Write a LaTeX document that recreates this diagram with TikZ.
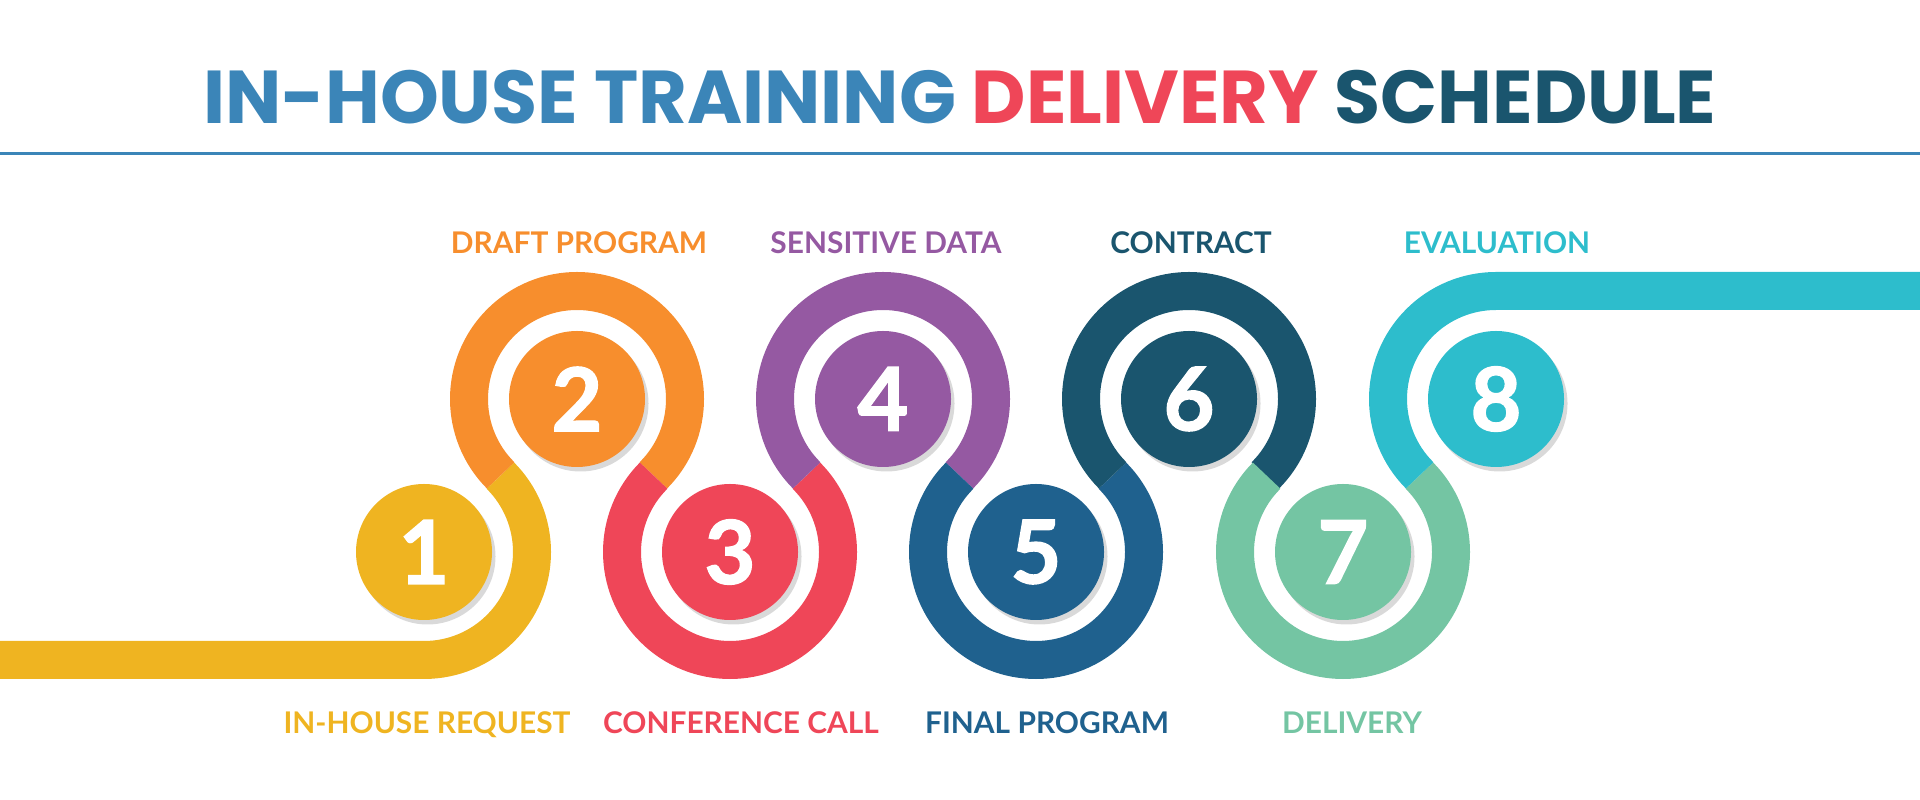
\documentclass[tikz,border=0pt]{standalone}
\usepackage{fontspec}
\setmainfont{Lato}
\newfontfamily\titlefont{Poppins}
\newfontfamily\numfont{Lato}[BoldFeatures={FakeBold=1.6}]
\usetikzlibrary{calc,shadows}

\definecolor{ihYellow}{HTML}{EFB421}
\definecolor{ihOrange}{HTML}{F78E2D}
\definecolor{ihRed}{HTML}{EF4658}
\definecolor{ihPurple}{HTML}{9559A2}
\definecolor{ihBlue}{HTML}{1F618E}
\definecolor{ihTeal}{HTML}{1A556E}
\definecolor{ihGreen}{HTML}{74C5A3}
\definecolor{ihCyan}{HTML}{2DBDCC}
\definecolor{ihSky}{HTML}{3B85B8}

\begin{document}
\begin{tikzpicture}
\tikzset{ring/.style = {line width=0.38cm}}
\tikzset{stepnum/.style = {shape=circle, minimum size=1.36cm, inner sep=0pt, text=white,
    font=\numfont\fontsize{25}{25}\selectfont\bfseries,
    drop shadow={shadow xshift=0.035cm, shadow yshift=-0.045cm, opacity=0.15, fill=black}}}
\tikzset{steptext/.style = {anchor=base, inner sep=0pt, font=\fontsize{8.5}{10}\selectfont\bfseries}}
\useasboundingbox (0,0) rectangle (19.2,8);

% title and rule
\node[anchor=base, inner sep=0pt, font={\titlefont\fontsize{21.3}{24}\selectfont\bfseries}] (title) at (9.6,6.76)
    {\textcolor{ihSky}{IN-HOUSE TRAINING} \textcolor{ihRed}{DELIVERY} \textcolor{ihTeal}{SCHEDULE}};
\coordinate (ruleL) at (0,6.465);
\coordinate (ruleR) at (19.2,6.465);
\draw[ihSky, line width=0.03cm] (ruleL) -- (ruleR);

% centres of the steps
\coordinate (c1) at (4.24,2.48);
\coordinate (c2) at (5.77,4.01);
\coordinate (c3) at (7.30,2.48);
\coordinate (c4) at (8.83,4.01);
\coordinate (c5) at (10.36,2.48);
\coordinate (c6) at (11.89,4.01);
\coordinate (c7) at (13.43,2.48);
\coordinate (c8) at (14.96,4.01);
\coordinate (start) at (0,1.40);
\coordinate (finish) at (19.2,5.09);

% the winding band
\draw[ring, ihYellow] (start) -- ($(c1)+(-90:1.08)$) arc[start angle=-90, end angle=45, radius=1.08];
\draw[ring, ihOrange] ($(c2)+(225:1.08)$) arc[start angle=225, end angle=-45, radius=1.08];
\draw[ring, ihRed] ($(c3)+(135:1.08)$) arc[start angle=135, end angle=405, radius=1.08];
\draw[ring, ihPurple] ($(c4)+(225:1.08)$) arc[start angle=225, end angle=-45, radius=1.08];
\draw[ring, ihBlue] ($(c5)+(135:1.08)$) arc[start angle=135, end angle=405, radius=1.08];
\draw[ring, ihTeal] ($(c6)+(225:1.08)$) arc[start angle=225, end angle=-45, radius=1.08];
\draw[ring, ihGreen] ($(c7)+(135:1.08)$) arc[start angle=135, end angle=405, radius=1.08];
\draw[ring, ihCyan] ($(c8)+(225:1.08)$) arc[start angle=225, end angle=90, radius=1.08] -- (finish);

% numbered discs
\node[stepnum, fill=ihYellow] (n1) at (c1) {1};
\node[stepnum, fill=ihOrange] (n2) at (c2) {2};
\node[stepnum, fill=ihRed] (n3) at (c3) {3};
\node[stepnum, fill=ihPurple] (n4) at (c4) {4};
\node[stepnum, fill=ihBlue] (n5) at (c5) {5};
\node[stepnum, fill=ihTeal] (n6) at (c6) {6};
\node[stepnum, fill=ihGreen] (n7) at (c7) {7};
\node[stepnum, fill=ihCyan] (n8) at (c8) {8};

% step names
\node[steptext, text=ihYellow] (t1) at (4.27,0.66) {IN-HOUSE REQUEST};
\node[steptext, text=ihOrange] (t2) at (5.79,5.46) {DRAFT PROGRAM};
\node[steptext, text=ihRed] (t3) at (7.41,0.66) {CONFERENCE CALL};
\node[steptext, text=ihPurple] (t4) at (8.86,5.46) {SENSITIVE DATA};
\node[steptext, text=ihBlue] (t5) at (10.47,0.66) {FINAL PROGRAM};
\node[steptext, text=ihTeal] (t6) at (11.91,5.46) {CONTRACT};
\node[steptext, text=ihGreen] (t7) at (13.52,0.66) {DELIVERY};
\node[steptext, text=ihCyan] (t8) at (14.97,5.46) {EVALUATION};
\end{tikzpicture}
\end{document}
